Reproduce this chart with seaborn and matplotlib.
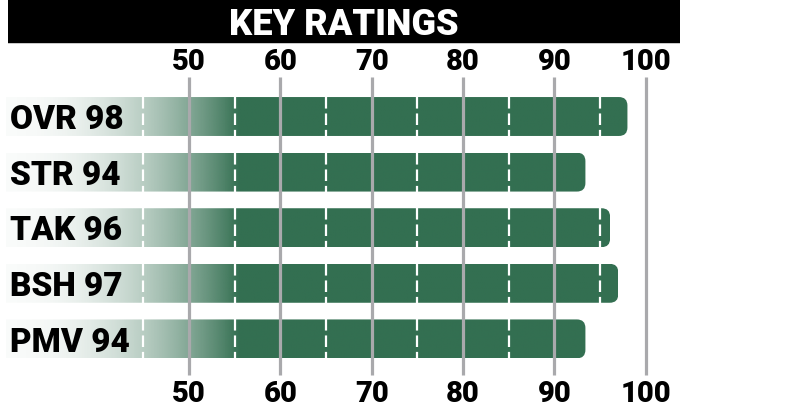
import numpy as np
import seaborn as sns
import matplotlib.pyplot as plt
from matplotlib.patches import FancyBboxPatch, Rectangle

codes = ['OVR', 'STR', 'TAK', 'BSH', 'PMV']
ratings = [98, 94, 96, 97, 94]
# bar lengths as drawn in the graphic
bar_ends = [98, 93.4, 96.1, 97, 93.4]
grid_ticks = [50, 60, 70, 80, 90, 100]
dash_ticks = [45, 55, 65, 75, 85, 95]

GREEN = '#336f51'
FONT = ['Roboto', 'DejaVu Sans']
WEIGHT = 'heavy'

sns.set_style('white')
plt.rcParams['font.family'] = FONT

fig = plt.figure(figsize=(7.85, 4.15), dpi=100)
ax = fig.add_axes([0, 0, 1, 1])

sns.barplot(x=bar_ends, y=codes, orient='h', width=0.7, color=GREEN, ax=ax)

# pixel mapping: 50 -> 189px, 9.134 px per unit; rows at 116.5px + 55.6px*i
ppx = 9.134
ppy = 55.6
ax.set_xlim(50 - 189 / ppx, 50 + (785 - 189) / ppx)
ax.set_ylim((415 - 116.5) / ppy, -116.5 / ppy)
ax.axis('off')

start = 30
rgb = np.array([0x33, 0x6f, 0x51]) / 255
r_x = 8.5 / ppx
aspect = (8.5 / ppy) / r_x

for p in list(ax.patches):
    y0 = p.get_y()
    h = p.get_height()
    end = p.get_width()
    p.set_visible(False)
    clip = FancyBboxPatch((start - 5, y0), end - start + 5, h,
                          boxstyle=f'round,pad=0,rounding_size={r_x}',
                          mutation_aspect=aspect, facecolor='none',
                          edgecolor='none', transform=ax.transData)
    ax.add_patch(clip)
    xs = np.linspace(start, end, 600)
    t = np.clip((xs - start) / (55.5 - start), 0, 1)
    alpha = 0.03 + 0.97 * t ** 2.1
    img = np.ones((1, len(xs), 4))
    img[0, :, :3] = rgb
    img[0, :, 3] = alpha
    im = ax.imshow(img, extent=[start, end, y0 + h, y0], aspect='auto',
                   interpolation='bilinear', zorder=2)
    im.set_clip_path(clip)
    for d in dash_ticks:
        if d < end - 0.3:
            ax.plot([d, d], [y0, y0 + h], color='white', lw=1.6,
                    dashes=(5.2, 2.2), zorder=3, solid_capstyle='butt',
                    dash_capstyle='butt')

# grey grid lines over the bars
gy0 = (77 - 116.5) / ppy
gy1 = (375 - 116.5) / ppy
for g in grid_ticks:
    ax.plot([g, g], [gy0, gy1], color='#a9a9ac', lw=2.3, zorder=4,
            solid_capstyle='butt')
    ax.text(g, (70 - 116.5) / ppy, str(g), ha='center', va='baseline',
            fontsize=21, fontweight=WEIGHT, color='black')
    ax.text(g, (402 - 116.5) / ppy, str(g), ha='center', va='baseline',
            fontsize=21, fontweight=WEIGHT, color='black')

for i, (c, r) in enumerate(zip(codes, ratings)):
    ax.text(50 - (189 - 10) / ppx, i + 12.6 / ppy, f'{c} {r}', ha='left',
            va='baseline', fontsize=24, fontweight=WEIGHT, color='black',
            zorder=5)

# title band
fig.patches.append(Rectangle((8 / 785, 1 - 43 / 415), 672 / 785, 43 / 415,
                             transform=fig.transFigure, facecolor='black',
                             edgecolor='none', zorder=0))
fig.patches.append(Rectangle((8 / 785, 1 - 44 / 415), 672 / 785, 1 / 415,
                             transform=fig.transFigure, facecolor='#c8c8c8',
                             edgecolor='none', zorder=0))
fig.text(344 / 785, 1 - 35 / 415, 'KEY RATINGS', ha='center', va='baseline',
         fontsize=26, fontweight=WEIGHT, color='white')

fig.savefig('out.png', dpi=100)
